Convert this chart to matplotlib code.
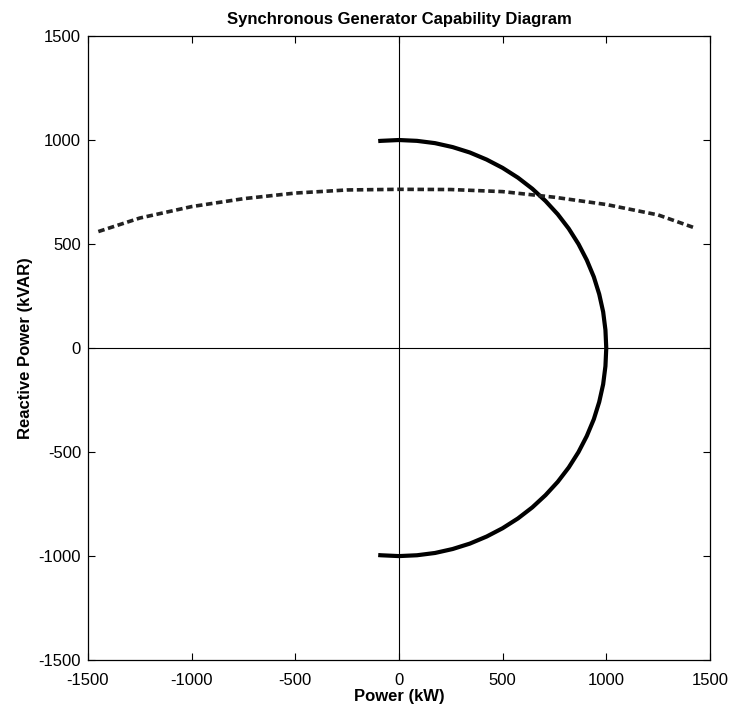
import matplotlib
matplotlib.use('Agg')
import matplotlib.pyplot as plt

# Armature current limit (solid arc)
arc_p = [-100, -87, 0, 87, 174, 259, 342, 423, 500, 574, 643, 707, 766, 819, 866,
         906, 940, 966, 985, 996, 1000,
         996, 985, 966, 940, 906, 866, 819, 766, 707, 643, 574, 500, 423, 342,
         259, 174, 87, 0, -87, -100]
arc_q = [995, 996, 1000, 996, 985, 966, 940, 906, 866, 819, 766, 707, 643, 574, 500,
         423, 342, 259, 174, 87, 0,
         -87, -174, -259, -342, -423, -500, -574, -643, -707, -766, -819, -866, -906, -940,
         -966, -985, -996, -1000, -996, -995]

# Field current limit (dashed curve)
field_p = [-1450, -1250, -1000, -750, -500, -250, 0, 250, 500, 750, 1000, 1250, 1420]
field_q = [560, 625, 680, 718, 745, 760, 763, 762, 752, 725, 690, 640, 580]

ticks = [-1500, -1000, -500, 0, 500, 1000, 1500]

plt.rcParams['font.family'] = ['Liberation Sans', 'DejaVu Sans']
plt.rcParams['axes.unicode_minus'] = False

fig = plt.figure(figsize=(7.3, 7.06), dpi=100)
ax = fig.add_axes([0.1205, 0.065, 0.852, 0.884])

ax.axhline(0, color='black', linewidth=0.8)
ax.axvline(0, color='black', linewidth=0.8)
ax.plot(arc_p, arc_q, color='black', linewidth=3.0, solid_capstyle='butt')
ax.plot(field_p, field_q, color='#222222', linewidth=2.6, linestyle=(0, (1.8, 1.0)))

ax.set_xlim(-1500, 1500)
ax.set_ylim(-1500, 1500)
ax.set_xticks(ticks)
ax.set_yticks(ticks)
ax.tick_params(direction='in', length=5, labelsize=12, top=True, right=True)
ax.tick_params(axis='x', pad=9)
ax.tick_params(axis='y', pad=5)
for s in ax.spines.values():
    s.set_linewidth(0.9)

ax.set_title('Synchronous Generator Capability Diagram', fontsize=12, fontweight='bold', pad=9)
ax.set_xlabel('Power (kW)', fontsize=12, fontweight='bold', labelpad=1)
ax.set_ylabel('Reactive Power (kVAR)', fontsize=12, fontweight='bold', labelpad=4)

plt.savefig('out.png', dpi=100)
plt.close()
